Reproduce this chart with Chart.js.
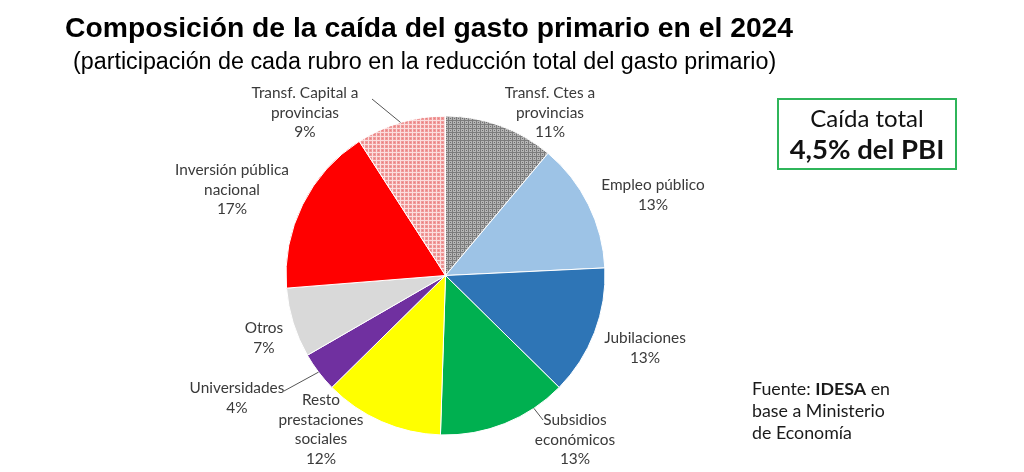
<!DOCTYPE html>
<html><head><meta charset="utf-8">
<script src="https://cdn.jsdelivr.net/npm/chart.js@4.4.1/dist/chart.umd.min.js"></script>
<style>
html,body{margin:0;padding:0;background:#fff;}
#wrap{position:relative;width:1024px;height:472px;overflow:hidden;background:#fff;}
#c{position:absolute;left:0;top:0;}
.t{position:absolute;white-space:nowrap;}
#title{left:65px;top:10px;font:bold 28.3px "Liberation Sans",Arial,sans-serif;line-height:34px;color:#000;}
#sub{left:73px;top:47px;font:23.3px "Liberation Sans",Arial,sans-serif;line-height:28px;color:#000;}
.lbl{position:absolute;white-space:pre;text-align:center;font:15.4px Lato,"Open Sans",sans-serif;line-height:19.5px;color:#3a3a3a;transform:translateX(-50%);}
#box{position:absolute;left:777px;top:98px;width:176px;height:68px;border:2px solid #2fb55a;text-align:center;font-family:Lato,"Open Sans",sans-serif;color:#111;}
#box .a{font-size:24px;line-height:24px;margin-top:6px;}
#box .b{font-size:27.5px;font-weight:bold;line-height:28px;margin-top:5px;}
#src{position:absolute;left:752px;top:377px;font:17.8px Lato,"Open Sans",sans-serif;line-height:22px;color:#1a1a1a;}
</style></head><body>
<div id="wrap">
<canvas id="c" width="1024" height="472" style="width:1024px;height:472px"></canvas>
<div class="t" id="title">Composición de la caída del gasto primario en el 2024</div>
<div class="t" id="sub">(participación de cada rubro en la reducción total del gasto primario)</div>
<div id="box"><div class="a">Caída total</div><div class="b">4,5% del PBI</div></div>
<div id="src">Fuente: <b>IDESA</b> en<br>base a Ministerio<br>de Economía</div>
</div>
<script>
// ---- data ----
const categories = [
  "Transf. Ctes a\nprovincias",
  "Empleo público",
  "Jubilaciones",
  "Subsidios\neconómicos",
  "Resto\nprestaciones\nsociales",
  "Universidades",
  "Otros",
  "Inversión pública\nnacional",
  "Transf. Capital a\nprovincias"
];
const shares = [11, 13, 13, 13, 12, 4, 7, 17, 9];
const shareLabels = ["11%", "13%", "13%", "13%", "12%", "4%", "7%", "17%", "9%"];

// ---- styling / layout (not data) ----
const labelPos = [[550,93],[653,185],[645,338],[575,420],[321,400],[237,388],[264,328],[232,170],[305,93]];
const leaders = [
  {i:3, t:0.25, end:[543,420]},
  {i:5, t:0.5, end:[284,391]},
  {i:8, t:0.5, end:[372,99]}
];

function makePattern(bg, line, dot){
  const p = document.createElement('canvas'); p.width = 4; p.height = 4;
  const g = p.getContext('2d');
  g.fillStyle = bg; g.fillRect(0,0,4,4);
  g.fillStyle = line; g.fillRect(0,0,4,1); g.fillRect(0,0,1,4);
  if (dot){ g.fillStyle = dot; g.fillRect(2,2,1,1); }
  return document.getElementById('c').getContext('2d').createPattern(p,'repeat');
}
const grayPat = makePattern('#b5b5b5', '#7c7c7c', '#6c6c6c');
const pinkPat = makePattern('#f09a9a', '#fbdede', '#e88080');

const colors = [grayPat, '#9dc3e6', '#2e75b6', '#00b050', '#ffff00', '#7030a0', '#d9d9d9', '#ff0000', pinkPat];

const leaderPlugin = {
  id: 'leaders',
  afterDatasetsDraw(chart){
    const ctx = chart.ctx;
    const meta = chart.getDatasetMeta(0);
    ctx.save();
    ctx.strokeStyle = '#555';
    ctx.lineWidth = 1;
    leaders.forEach(l => {
      const a = meta.data[l.i];
      const ang = a.startAngle + (a.endAngle - a.startAngle) * l.t;
      const x0 = a.x + a.outerRadius * Math.cos(ang);
      const y0 = a.y + a.outerRadius * Math.sin(ang);
      ctx.beginPath(); ctx.moveTo(x0, y0); ctx.lineTo(l.end[0], l.end[1]); ctx.stroke();
    });
    ctx.restore();
  }
};

new Chart(document.getElementById('c'), {
  type: 'pie',
  data: {
    labels: categories,
    datasets: [{ data: shares, backgroundColor: colors, borderColor: '#ffffff', borderWidth: 1 }]
  },
  options: {
    responsive: false,
    animation: false,
    devicePixelRatio: 1,
    layout: { padding: { left: 285.5, right: 418.5, top: 115.5, bottom: 36.5 } },
    plugins: { legend: { display: false }, tooltip: { enabled: false }, title: { display: false } }
  },
  plugins: [leaderPlugin]
});

const wrap = document.getElementById('wrap');
categories.forEach((c, i) => {
  const d = document.createElement('div');
  d.className = 'lbl';
  d.textContent = c + "\n" + shareLabels[i];
  d.style.left = labelPos[i][0] + 'px';
  d.style.top = (labelPos[i][1] - 9.75) + 'px';
  wrap.appendChild(d);
});
</script>
</body></html>
